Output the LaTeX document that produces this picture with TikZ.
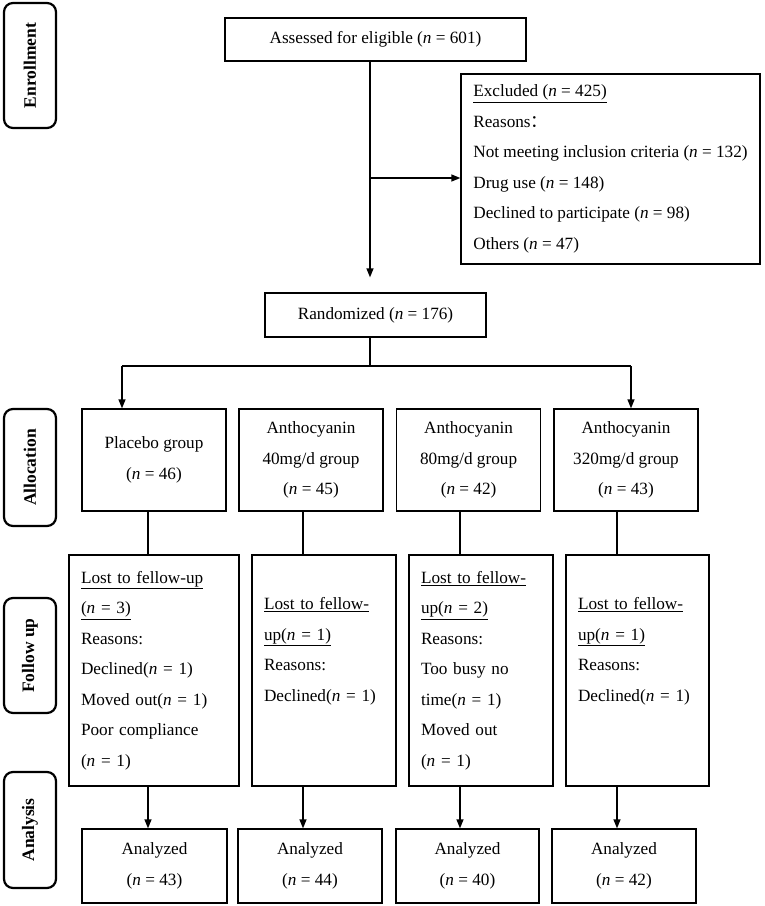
\documentclass[tikz,border=0pt]{standalone}
\usepackage{fontspec}
\setmainfont{Liberation Serif}
\newfontfamily\cjk{Noto Sans CJK SC}
\usepackage{tikz}
\usetikzlibrary{arrows.meta}

\begin{document}
\begin{tikzpicture}[x=1pt, y=-1pt,
	font=\fontsize{17.2}{30.5}\selectfont,
	box/.style={shape=rectangle, draw=black, line width=1.3pt, align=center},
	lost/.style={box, align=left, minimum height=231pt, inner xsep=12pt},
	stage/.style={shape=rectangle, rounded corners=9pt, draw=black, line width=2.2pt, rotate=90,
		minimum height=52pt, font=\fontsize{17.5}{20}\selectfont\bfseries},
	arr/.style={-{Triangle[length=9pt, width=7pt]}, line width=1.3pt},
	link/.style={-, line width=1.3pt}]
	
	\useasboundingbox (0, 0) rectangle (764, 906);
	
	\node[stage, minimum width=125pt] (enrol) at (30, 65.5)  {Enrollment};
	\node[stage, minimum width=117pt] (alloc) at (30, 467.5) {Allocation};
	\node[stage, minimum width=115pt] (follow) at (30, 655.5) {Follow up};
	\node[stage, minimum width=116pt] (analys) at (30, 830)   {Analysis};
	
	\node[box, minimum width=301pt, minimum height=43pt] (assess) at (375.5, 39.5) {Assessed for eligible (\textit{n} = 601)};
	\node[box, align=left, minimum width=299pt, minimum height=190pt] (excl) at (610.5, 169)
		{\underline{Excluded (\textit{n} = 425)}\\ Reasons{\cjk ：}\\ Not meeting inclusion criteria (\textit{n} = 132)\\
		 Drug use (\textit{n} = 148)\\ Declined to participate (\textit{n} = 98)\\ Others (\textit{n} = 47)};
	\node[box, minimum width=221pt, minimum height=44pt] (rand) at (375.5, 315) {Randomized (\textit{n} = 176)};
	
	\node[box, minimum width=144pt, minimum height=102pt] (grp1) at (154, 460)   {Placebo group\\(\textit{n} = 46)};
	\node[box, minimum width=144pt, minimum height=102pt] (grp2) at (311, 460)   {Anthocyanin\\40mg/d group\\(\textit{n} = 45)};
	\node[box, minimum width=144pt, minimum height=102pt] (grp3) at (468.6, 460) {Anthocyanin\\80mg/d group\\(\textit{n} = 42)};
	\node[box, minimum width=144pt, minimum height=102pt] (grp4) at (626, 460)   {Anthocyanin\\320mg/d group\\(\textit{n} = 43)};
	
	\node[lost, text width=146pt] (lost1) at (154, 670.5)
		{\underline{Lost to fellow-up}\\ \underline{(\textit{n} = 3)}\\ Reasons:\\ Declined(\textit{n} = 1)\\
		 Moved out(\textit{n} = 1)\\ Poor compliance\\ (\textit{n} = 1)};
	\node[lost, text width=120pt] (lost2) at (324, 670.5)
		{\mbox{}\\ \underline{Lost to fellow-}\\ \underline{up(\textit{n} = 1)}\\ Reasons:\\ Declined(\textit{n} = 1)\\ \mbox{}\\ \mbox{}};
	\node[lost, text width=120pt] (lost3) at (481, 670.5)
		{\underline{Lost to fellow-}\\ \underline{up(\textit{n} = 2)}\\ Reasons:\\ Too busy no\\ time(\textit{n} = 1)\\ Moved out\\ (\textit{n} = 1)};
	\node[lost, text width=119pt] (lost4) at (637.5, 670.5)
		{\mbox{}\\ \underline{Lost to fellow-}\\ \underline{up(\textit{n} = 1)}\\ Reasons:\\ Declined(\textit{n} = 1)\\ \mbox{}\\ \mbox{}};
	
	\node[box, minimum width=145pt, minimum height=74pt] (ana1) at (154.5, 866) {Analyzed\\(\textit{n} = 43)};
	\node[box, minimum width=144pt, minimum height=74pt] (ana2) at (310, 866)   {Analyzed\\(\textit{n} = 44)};
	\node[box, minimum width=143pt, minimum height=74pt] (ana3) at (467.5, 866) {Analyzed\\(\textit{n} = 40)};
	\node[box, minimum width=144pt, minimum height=74pt] (ana4) at (624, 866)   {Analyzed\\(\textit{n} = 42)};
	
	\coordinate (split) at (370, 178);
	\coordinate (fork)  at (370, 366);
	\coordinate (forkl) at (122, 366);
	\coordinate (forkr) at (631, 366);
	
	\draw[arr, shorten >=15pt] (assess.south -| split) -- (rand.north -| split);
	\draw[arr] (split) -- (split -| excl.west);
	\draw[link] (rand.south -| fork) -- (fork);
	\draw[link] (forkl) -- (forkr);
	\draw[arr] (forkl) -- (forkl |- grp1.north);
	\draw[arr] (forkr) -- (forkr |- grp4.north);
	\foreach \i/\x in {1/148, 2/303, 3/460, 4/617} {
		\draw[link] (grp\i.south -| \x,0) -- (lost\i.north -| \x,0);
		\draw[arr] (lost\i.south -| \x,0) -- (ana\i.north -| \x,0);
	}
	
\end{tikzpicture}
\end{document}
